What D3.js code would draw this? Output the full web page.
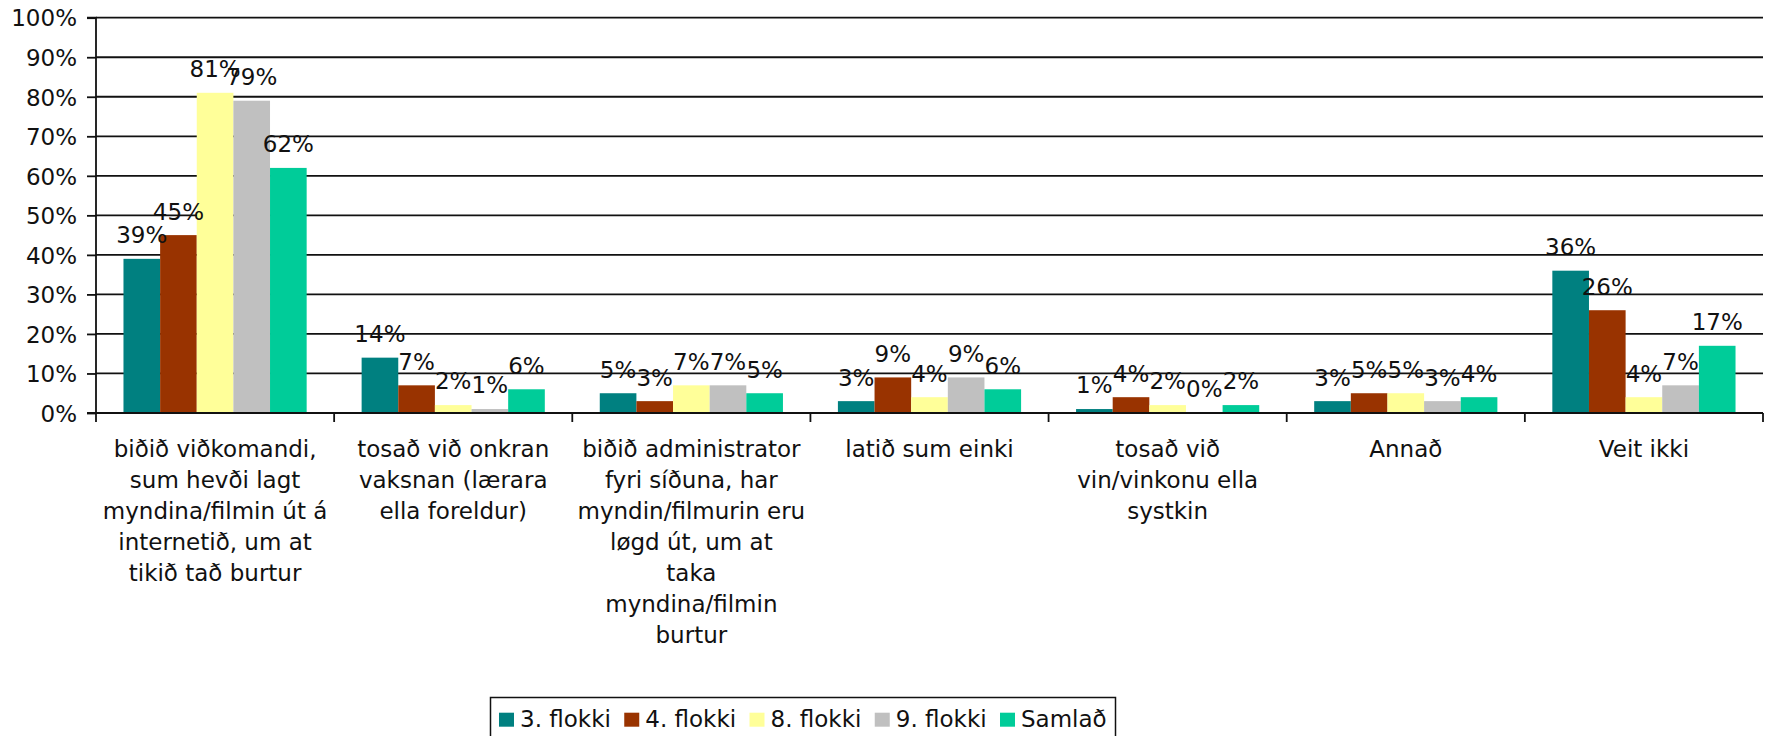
<!DOCTYPE html>
<html>
<head>
<meta charset="utf-8">
<script src="https://cdn.jsdelivr.net/npm/d3@7"></script>
<style>
  html, body { margin: 0; padding: 0; background: #fff; }
  svg { display: block; font-family: "DejaVu Sans", Verdana, sans-serif; }
</style>
</head>
<body>
<svg id="chart" width="1769" height="736"></svg>
<script>
// Categories (line breaks mark where each label wraps)
const categories = [
  "biðið viðkomandi,\nsum hevði lagt\nmyndina/filmin út á\ninternetið, um at\ntikið tað burtur",
  "tosað við onkran\nvaksnan (lærara\nella foreldur)",
  "biðið administrator\nfyri síðuna, har\nmyndin/filmurin eru\nløgd út, um at\ntaka\nmyndina/filmin\nburtur",
  "latið sum einki",
  "tosað við\nvin/vinkonu ella\nsystkin",
  "Annað",
  "Veit ikki"
];

// Series names and colours
const seriesNames = ["3. flokki", "4. flokki", "8. flokki", "9. flokki", "Samlað"];
const seriesColors = ["#008080", "#993300", "#FFFF99", "#C0C0C0", "#00CC99"];

// Percent values per series, one per category
const flokkur3 = [39, 14, 5, 3, 1, 3, 36];
const flokkur4 = [45, 7, 3, 9, 4, 5, 26];
const flokkur8 = [81, 2, 7, 4, 2, 5, 4];
const flokkur9 = [79, 1, 7, 9, 0, 3, 7];
const samlad   = [62, 6, 5, 6, 2, 4, 17];

const yTicks = [0, 10, 20, 30, 40, 50, 60, 70, 80, 90, 100];

const seriesValues = [flokkur3, flokkur4, flokkur8, flokkur9, samlad];

const svg = d3.select("#chart");
const plot = { left: 96, right: 1763, top: 17.7, bottom: 413 };
const FONT = 23;

const x0 = d3.scaleBand()
  .domain(d3.range(categories.length))
  .range([plot.left, plot.right])
  .paddingInner(0).paddingOuter(0);

const x1 = d3.scaleBand()
  .domain(d3.range(seriesNames.length))
  .range([0, x0.bandwidth()])
  .paddingInner(0).paddingOuter(0.75);

const y = d3.scaleLinear().domain([0, 100]).range([plot.bottom, plot.top]);

// Horizontal gridlines
svg.append("g")
  .selectAll("line")
  .data(yTicks.filter(t => t > 0))
  .join("line")
  .attr("x1", plot.left).attr("x2", plot.right)
  .attr("y1", d => y(d)).attr("y2", d => y(d))
  .attr("stroke", "#111").attr("stroke-width", 1.8);

// Bars
const groups = svg.append("g")
  .selectAll("g")
  .data(categories.map((c, i) => i))
  .join("g")
  .attr("transform", i => `translate(${x0(i)},0)`);

groups.selectAll("rect")
  .data(i => seriesValues.map((vals, s) => ({ s, v: vals[i] })))
  .join("rect")
  .attr("x", d => x1(d.s))
  .attr("width", x1.bandwidth())
  .attr("y", d => y(d.v))
  .attr("height", d => y(0) - y(d.v))
  .attr("fill", d => seriesColors[d.s]);

// Y axis
const yAxis = d3.axisLeft(y)
  .tickValues(yTicks)
  .tickFormat(d => d + "%")
  .tickSize(9)
  .tickPadding(10);

const yg = svg.append("g")
  .attr("transform", `translate(${plot.left},0)`)
  .call(yAxis);
yg.select(".domain").attr("stroke", "#111").attr("stroke-width", 1.8)
  .attr("d", `M-9,${plot.top}H0V${plot.bottom}H-9`);
yg.selectAll(".tick line").attr("stroke", "#111").attr("stroke-width", 1.8);
yg.selectAll(".tick text")
  .attr("font-size", FONT)
  .attr("font-family", "DejaVu Sans, Verdana, sans-serif")
  .attr("fill", "#111")
  .attr("dy", "0.36em");

// X axis with ticks at category boundaries
const boundaries = d3.range(categories.length + 1).map(i =>
  i < categories.length ? x0(i) : x0(categories.length - 1) + x0.bandwidth());
const xg = svg.append("g");
xg.append("line")
  .attr("x1", plot.left - 9).attr("x2", plot.right)
  .attr("y1", plot.bottom).attr("y2", plot.bottom)
  .attr("stroke", "#111").attr("stroke-width", 1.8);
xg.selectAll("line.tick")
  .data(boundaries)
  .join("line")
  .attr("class", "tick")
  .attr("x1", d => d).attr("x2", d => d)
  .attr("y1", plot.bottom).attr("y2", plot.bottom + 9)
  .attr("stroke", "#111").attr("stroke-width", 1.8);

// Category labels
const catText = xg.selectAll("text")
  .data(categories)
  .join("text")
  .attr("text-anchor", "middle")
  .attr("font-size", FONT)
  .attr("fill", "#111")
  .attr("transform", (d, i) => `translate(${x0(i) + x0.bandwidth() / 2},457)`);
catText.selectAll("tspan")
  .data(d => d.split("\n"))
  .join("tspan")
  .attr("x", 0)
  .attr("y", (d, j) => j * 31)
  .text(d => d);

// Data labels above bars
groups.selectAll("text")
  .data(i => seriesValues.map((vals, s) => ({ s, v: vals[i] })))
  .join("text")
  .attr("x", d => x1(d.s) + x1.bandwidth() / 2)
  .attr("y", d => y(d.v) - 15.6)
  .attr("text-anchor", "middle")
  .attr("font-size", FONT)
  .attr("fill", "#111")
  .text(d => d.v + "%");

// Legend
const legend = svg.append("g");
legend.append("rect")
  .attr("x", 490.5).attr("y", 697.5)
  .attr("width", 625).attr("height", 60)
  .attr("fill", "#fff").attr("stroke", "#111").attr("stroke-width", 1.5);
const items = legend.selectAll("g")
  .data(seriesNames)
  .join("g")
  .attr("transform", (d, i) => `translate(${499 + i * 125.25},0)`);
items.append("rect")
  .attr("x", 0).attr("y", 712.7)
  .attr("width", 15).attr("height", 14)
  .attr("fill", (d, i) => seriesColors[i]);
items.append("text")
  .attr("x", 21).attr("y", 727)
  .attr("font-size", FONT)
  .attr("fill", "#111")
  .text(d => d);
</script>
</body>
</html>
